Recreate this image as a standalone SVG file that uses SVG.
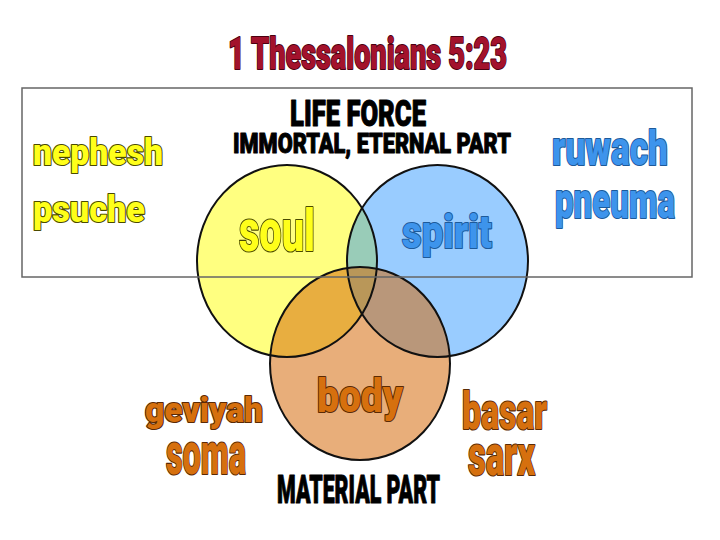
<svg xmlns="http://www.w3.org/2000/svg" width="720" height="540" viewBox="0 0 720 540">
<style>
text{font-family:Roboto,Lato,"Liberation Sans",Arial,sans-serif;font-weight:900;paint-order:stroke;stroke-linejoin:round;}
.title{fill:#a3122c;stroke:#4a0010;stroke-width:2;}
.blk{fill:#000;stroke:#000;stroke-width:1;}
.yel{fill:#ffff1a;stroke:#4a4a00;stroke-width:2.2;}
.blu{fill:#3d94ec;stroke:#1d5a9a;stroke-width:2.2;}
.org{fill:#d6700e;stroke:#5a2a05;stroke-width:2.2;}
.ring{fill:none;stroke:#111;stroke-width:2;}
</style>
<rect width="720" height="540" fill="#fff"/>
<g id="title"><text class="title" x="228" y="69" font-size="45" textLength="279" lengthAdjust="spacingAndGlyphs">1 Thessalonians 5:23</text></g>
<g id="circles">
<g id="soul-circle"><ellipse cx="287" cy="261" rx="90" ry="96" fill="#ffff80"/></g>
<g id="spirit-circle"><ellipse cx="437.5" cy="261" rx="90.5" ry="96" fill="#178bff" fill-opacity="0.44"/></g>
<g id="body-circle"><ellipse cx="360" cy="363.5" rx="90" ry="96.5" fill="#d56a0a" fill-opacity="0.54"/></g>
<ellipse class="ring" cx="287" cy="261" rx="90" ry="96"/>
<ellipse class="ring" cx="437.5" cy="261" rx="90.5" ry="96"/>
<ellipse class="ring" cx="360" cy="363.5" rx="90" ry="96.5"/>
</g>
<g id="frame"><rect x="22" y="88" width="670" height="189" fill="none" stroke="#666" stroke-width="1.5"/></g>
<g id="life-force">
<text class="blk" x="290" y="126" font-size="36" textLength="136" lengthAdjust="spacingAndGlyphs">LIFE FORCE</text>
<text class="blk" x="233" y="153" font-size="27" textLength="278" lengthAdjust="spacingAndGlyphs">IMMORTAL, ETERNAL PART</text>
</g>
<g id="soul-labels">
<text class="yel" x="33" y="165" font-size="37" textLength="130" lengthAdjust="spacingAndGlyphs">nephesh</text>
<text class="yel" x="33" y="222" font-size="37" textLength="112" lengthAdjust="spacingAndGlyphs">psuche</text>
<text class="yel" x="239" y="251" font-size="60" textLength="76" lengthAdjust="spacingAndGlyphs">soul</text>
</g>
<g id="spirit-labels">
<text class="blu" x="552" y="165" font-size="48" textLength="116" lengthAdjust="spacingAndGlyphs">ruwach</text>
<text class="blu" x="555" y="218" font-size="50" textLength="120" lengthAdjust="spacingAndGlyphs">pneuma</text>
<text class="blu" x="402" y="248" font-size="46" textLength="90" lengthAdjust="spacingAndGlyphs">spirit</text>
</g>
<g id="body-labels">
<text class="org" x="317" y="412" font-size="47" textLength="86" lengthAdjust="spacingAndGlyphs">body</text>
<text class="org" x="145" y="422" font-size="35" textLength="118" lengthAdjust="spacingAndGlyphs">geviyah</text>
<text class="org" x="166" y="474" font-size="59" textLength="80" lengthAdjust="spacingAndGlyphs">soma</text>
<text class="org" x="462" y="429" font-size="52" textLength="85" lengthAdjust="spacingAndGlyphs">basar</text>
<text class="org" x="468" y="475" font-size="57" textLength="67" lengthAdjust="spacingAndGlyphs">sarx</text>
<text class="blk" x="277" y="503" font-size="39" textLength="163" lengthAdjust="spacingAndGlyphs">MATERIAL PART</text>
</g>
</svg>
